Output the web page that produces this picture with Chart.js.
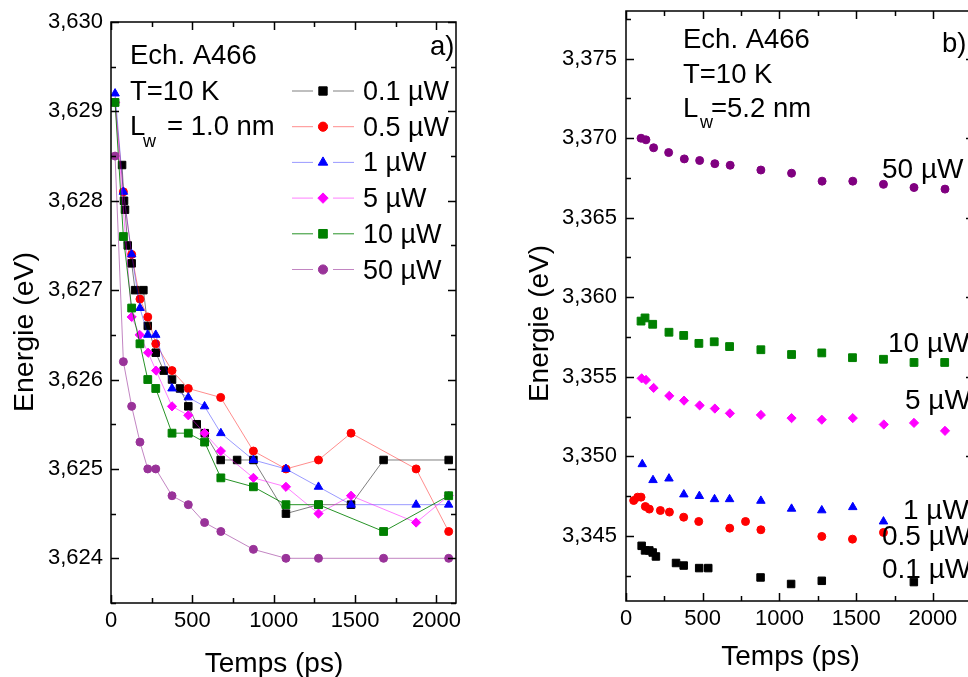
<!DOCTYPE html>
<html>
<head>
<meta charset="utf-8">
<script src="https://cdn.jsdelivr.net/npm/chart.js@4.4.0/dist/chart.umd.min.js"></script>
<style>
  body { margin: 0; background: #fff; overflow: hidden; width: 968px; height: 677px; position: relative; }
  #chartA { position: absolute; left: 0; top: 0; }
  #chartB { position: absolute; left: 480px; top: 0; }
</style>
</head>
<body>
<canvas id="chartA" width="480" height="677"></canvas>
<canvas id="chartB" width="520" height="677"></canvas>
<script>
// ---- panel a) data : temps (ps) / energie (eV) ----
const seriesNames = ['0.1 µW', '0.5 µW', '1 µW', '5 µW', '10 µW', '50 µW'];

const tA01 = [68, 80, 86, 103, 127, 148, 199, 226, 275, 324, 375, 424, 475, 527, 576, 674, 775, 875, 1075, 1275, 1475, 1675, 2075];
const eA01 = [3.6284, 3.6280, 3.6279, 3.6275, 3.6273, 3.6270, 3.6270, 3.6266, 3.6263, 3.6261, 3.6260, 3.6259, 3.6257, 3.6255, 3.6254, 3.6251, 3.6251, 3.6251, 3.6245, 3.6246, 3.6246, 3.6251, 3.6251];
const tA05 = [25, 76, 127, 178, 226, 275, 375, 475, 674, 875, 1075, 1275, 1475, 1875, 2075];
const eA05 = [3.6291, 3.6281, 3.6274, 3.6269, 3.6267, 3.6264, 3.6261, 3.6259, 3.6258, 3.6252, 3.6250, 3.6251, 3.6254, 3.6250, 3.6243];
const tA1 = [25, 76, 127, 178, 226, 275, 375, 475, 575, 675, 875, 1075, 1275, 1475, 1875, 2075];
const eA1 = [3.6292, 3.6281, 3.6274, 3.6268, 3.6265, 3.6265, 3.6259, 3.6258, 3.6257, 3.6254, 3.6251, 3.6250, 3.6248, 3.6246, 3.6246, 3.6246];
const tA5 = [25, 127, 176, 228, 277, 375, 475, 575, 675, 875, 1075, 1275, 1475, 1875, 2075];
const eA5 = [3.6291, 3.6267, 3.6265, 3.6263, 3.6261, 3.6257, 3.6256, 3.6254, 3.6252, 3.6249, 3.6248, 3.6245, 3.6247, 3.6244, 3.6247];
const tA10 = [25, 76, 127, 178, 226, 275, 375, 475, 575, 675, 875, 1075, 1275, 1675, 2075];
const eA10 = [3.6291, 3.6276, 3.6268, 3.6264, 3.6260, 3.6259, 3.6254, 3.6254, 3.6253, 3.6249, 3.6248, 3.6246, 3.6246, 3.6243, 3.6247];
const tA50 = [25, 76, 127, 178, 226, 275, 375, 475, 575, 675, 875, 1075, 1275, 1675, 2075];
const eA50 = [3.6285, 3.6262, 3.6257, 3.6253, 3.6250, 3.6250, 3.6247, 3.6246, 3.6244, 3.6243, 3.6241, 3.6240, 3.6240, 3.6240, 3.6240];

// ---- panel b) data ----
const tB01 = [102, 124, 152, 174, 195, 326, 376, 477, 536, 877, 1076, 1276, 1876];
const eB01 = [3.34437, 3.34408, 3.34408, 3.34395, 3.34370, 3.34329, 3.34313, 3.34297, 3.34297, 3.34238, 3.34197, 3.34217, 3.34209];
const tB05 = [50, 76, 98, 126, 152, 224, 283, 376, 474, 676, 779, 879, 1276, 1476, 1678];
const eB05 = [3.34722, 3.34743, 3.34743, 3.34684, 3.34668, 3.34659, 3.34649, 3.34617, 3.34590, 3.34548, 3.34590, 3.34538, 3.34496, 3.34479, 3.34521];
const tB1 = [106, 176, 280, 377, 478, 577, 675, 879, 1079, 1276, 1478, 1678];
const eB1 = [3.3495, 3.3485, 3.3486, 3.3476, 3.3475, 3.3473, 3.3473, 3.3472, 3.3467, 3.3466, 3.3468, 3.3459];
const tB5 = [102, 130, 180, 282, 378, 480, 579, 677, 879, 1079, 1276, 1478, 1680, 1877, 2079];
const eB5 = [3.3549, 3.3548, 3.3543, 3.3538, 3.3535, 3.3532, 3.3530, 3.3527, 3.3526, 3.3524, 3.3523, 3.3524, 3.3520, 3.3521, 3.3516];
const tB10 = [98, 124, 174, 280, 376, 475, 575, 675, 879, 1079, 1276, 1476, 1678, 1877, 2077];
const eB10 = [3.3585, 3.3587, 3.3583, 3.3578, 3.3576, 3.3571, 3.3572, 3.3569, 3.3567, 3.3564, 3.3565, 3.3562, 3.3561, 3.3559, 3.3559];
const tB50 = [98, 130, 180, 278, 380, 480, 579, 679, 879, 1079, 1278, 1478, 1678, 1877, 2079];
const eB50 = [3.3700, 3.3699, 3.3694, 3.3691, 3.3687, 3.3686, 3.3684, 3.3683, 3.3680, 3.3678, 3.3673, 3.3673, 3.3671, 3.3669, 3.3668];

// tick labels
const xTicks = [0, 500, 1000, 1500, 2000];
const yTicksA = [3.624, 3.625, 3.626, 3.627, 3.628, 3.629, 3.630];
const yTicksB = [3.345, 3.350, 3.355, 3.360, 3.365, 3.370, 3.375];

const FONT = '"Liberation Sans", Arial, sans-serif';
Chart.defaults.font.family = FONT;
Chart.defaults.color = '#000';

const colors = ['#000000', '#ff0000', '#0000ff', '#ff00ff', '#008000', '#993399'];
const lineColors = ['rgba(0,0,0,0.5)', 'rgba(255,0,0,0.45)', 'rgba(0,0,255,0.4)', 'rgba(255,0,255,0.5)', 'rgba(0,128,0,0.85)', 'rgba(153,51,153,0.6)'];
const colorsB = ['#000000', '#ff0000', '#0000ff', '#ff00ff', '#008000', '#800080'];
const styles = ['rect', 'circle', 'triangle', 'rectRot', 'rect', 'circle'];
const radii = [5.3, 4, 4.9, 4.6, 5.5, 4];

function pts(t, e) {
  return t.map((v, i) => ({ x: v, y: e[i] }));
}

const dataA = [[tA01, eA01], [tA05, eA05], [tA1, eA1], [tA5, eA5], [tA10, eA10], [tA50, eA50]];
const dataB = [[tB01, eB01], [tB05, eB05], [tB1, eB1], [tB5, eB5], [tB10, eB10], [tB50, eB50]];

// cadre + graduations vers l'interieur
const frameTicks = {
  id: 'frameTicks',
  afterDraw(chart) {
    const { ctx, chartArea: a, scales } = chart;
    const xs = scales.x, ys = scales.y;
    const xStep = 250, yStep = chart.options.yMinor;
    ctx.save();
    ctx.strokeStyle = '#000';
    ctx.lineWidth = 1.5;
    ctx.strokeRect(a.left, a.top, a.right - a.left, a.bottom - a.top);
    ctx.beginPath();
    for (let v = 0; v <= xs.max; v += xStep) {
      const p = Math.round(xs.getPixelForValue(v)) + 0.5;
      const len = (v % 500 === 0) ? 8 : 5;
      ctx.moveTo(p, a.bottom); ctx.lineTo(p, a.bottom - len);
      ctx.moveTo(p, a.top); ctx.lineTo(p, a.top + len);
    }
    const y0 = chart.options.yTicks[0] - yStep * 2;
    for (let k = 0; k < 40; k++) {
      const v = y0 + k * yStep;
      if (v < ys.min - 1e-9 || v > ys.max + 1e-9) continue;
      const p = Math.round(ys.getPixelForValue(v)) + 0.5;
      const len = (k % 2 === 0) ? 8 : 5;
      ctx.moveTo(a.left, p); ctx.lineTo(a.left + len, p);
      ctx.moveTo(a.right, p); ctx.lineTo(a.right - len, p);
    }
    ctx.stroke();
    ctx.restore();
  }
};

// textes (titres d'axes, annotations, legende)
const notes = {
  id: 'notes',
  afterDraw(chart) {
    const { ctx } = chart;
    const n = chart.options.notes;
    ctx.save();
    ctx.fillStyle = '#000';
    ctx.textBaseline = 'alphabetic';

    // titres des axes
    ctx.font = '28px ' + FONT;
    ctx.textAlign = 'center';
    ctx.fillText('Temps (ps)', n.xt[0], n.xt[1]);
    ctx.save();
    ctx.translate(n.yt[0], n.yt[1]);
    ctx.rotate(-Math.PI / 2);
    ctx.font = n.ytSize + 'px ' + FONT;
    ctx.fillText('Energie (eV)', 0, 0.358 * n.ytSize);
    ctx.restore();

    ctx.textAlign = 'left';
    ctx.font = '27.5px ' + FONT;
    ctx.fillText('Ech. A466', n.x, n.y[0]);
    ctx.fillText('T=10 K', n.x, n.y[1]);
    ctx.fillText('L', n.x, n.y[2]);
    ctx.font = '18px ' + FONT;
    ctx.fillText('w', n.wx, n.wy);
    ctx.font = '27.5px ' + FONT;
    ctx.fillText(n.lw, n.lx, n.y[2]);
    ctx.fillText(n.tag, n.tagX, n.tagY);
    if (n.legend) {
      ctx.font = '27px ' + FONT;
      chart.data.datasets.forEach((ds, i) => {
        const y = n.legend.y0 + i * n.legend.dy;
        const cy = y - 9;
        ctx.strokeStyle = ds.borderColor;
        ctx.lineWidth = 1;
        ctx.beginPath();
        ctx.moveTo(292, cy); ctx.lineTo(313, cy);
        ctx.moveTo(333, cy); ctx.lineTo(354, cy);
        ctx.stroke();
        ctx.fillStyle = ds.pointBackgroundColor;
        ctx.strokeStyle = ds.pointBorderColor;
        Chart.helpers.drawPoint(ctx, { pointStyle: ds.pointStyle, radius: ds.pointRadius + 0.6, rotation: 0, borderWidth: 1 }, 323, cy);
        ctx.fillStyle = '#000';
        ctx.fillText(ds.label, 363, y);
      });
    }
    if (n.labels) {
      ctx.font = '28px ' + FONT;
      n.labels.forEach(l => ctx.fillText(l[0], l[1], l[2]));
    }
    ctx.restore();
  }
};

function makeChart(id, data, cols, lcols, showLine, xMax, yMin, yMax, yTicks, yMinor, box, note) {
  const datasets = data.map((d, i) => ({
    label: seriesNames[i],
    data: pts(d[0], d[1]),
    showLine: showLine,
    borderColor: lcols[i],
    borderWidth: 1,
    pointStyle: styles[i],
    pointRadius: radii[i],
    pointBackgroundColor: cols[i],
    pointBorderColor: cols[i],
    pointBorderWidth: 1,
    order: 5 - i
  }));
  return new Chart(document.getElementById(id), {
    type: 'scatter',
    data: { datasets },
    plugins: [frameTicks, notes],
    options: {
      responsive: false,
      animation: false,
      yTicks: yTicks,
      yMinor: yMinor,
      notes: note,
      layout: { padding: { top: box.top, right: box.right, left: 0, bottom: 0 } },
      plugins: { legend: { display: false }, tooltip: { enabled: false } },
      scales: {
        x: {
          type: 'linear', min: 0, max: xMax,
          afterBuildTicks: s => { s.ticks = xTicks.map(v => ({ value: v })); },
          afterFit: s => { s.height = box.xh; s.paddingLeft = 0; s.paddingRight = 0; },
          grid: { display: false, drawTicks: false },
          border: { display: false },
          ticks: { padding: box.xpad, font: { size: 22 }, color: '#000', callback: v => String(v) }
        },
        y: {
          type: 'linear', min: yMin, max: yMax,
          afterBuildTicks: s => { s.ticks = yTicks.map(v => ({ value: v })); },
          afterFit: s => { s.width = box.yw; s.paddingTop = 0; s.paddingBottom = 0; },
          grid: { display: false, drawTicks: false },
          border: { display: false },
          ticks: { padding: box.ypad, font: { size: 22 }, color: '#000', callback: v => v.toFixed(3).replace('.', ',') }
        }
      }
    }
  });
}

makeChart('chartA', dataA, colors, lineColors, true, 2120, 3.6235, 3.630, yTicksA, 0.0005,
  { top: 22, right: 24, xh: 74, yw: 111, xpad: 5, ypad: 8 },
  { xt: [274, 672], yt: [22.5, 332], ytSize: 28.5,
    x: 130, y: [64, 100, 135], wx: 143, wy: 147, lw: '= 1.0 nm', lx: 167, tag: 'a)', tagX: 430, tagY: 55,
    legend: { y0: 100, dy: 35.7 } });

makeChart('chartB', dataB, colorsB, colorsB, false, 2268, 3.3409, 3.378, yTicksB, 0.0025,
  { top: 11, right: 26, xh: 76, yw: 146, xpad: 5, ypad: 9 },
  { xt: [310.5, 665], yt: [57.5, 323.5], ytSize: 28,
    x: 203, y: [48, 83, 117], wx: 220, wy: 128, lw: '=5.2 nm', lx: 231, tag: 'b)', tagX: 462, tagY: 52,
    labels: [['50 µW', 402, 178], ['10 µW', 408, 352], ['5 µW', 425, 409], ['1 µW', 423, 519], ['0.5 µW', 402, 545], ['0.1 µW', 402, 578]] });
</script>
</body>
</html>
